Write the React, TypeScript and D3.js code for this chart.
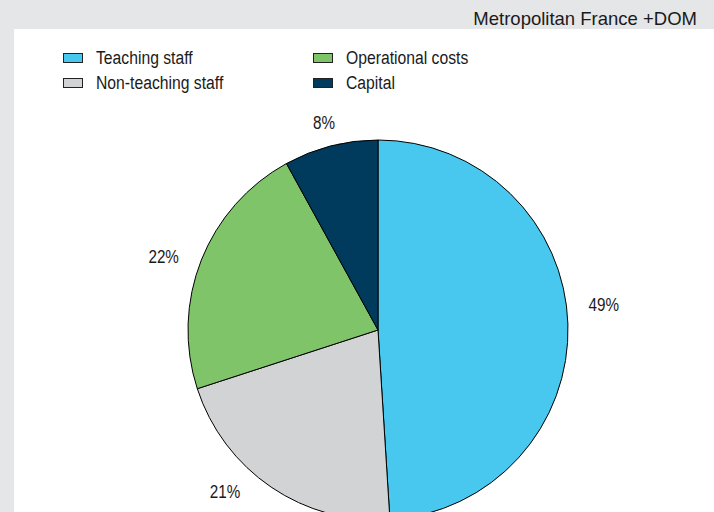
import React from 'react';
import * as d3 from 'd3';

const categories = ['Teaching staff', 'Non-teaching staff', 'Operational costs', 'Capital'];
const values = [49, 21, 22, 8];
const colors = ['#48c8ee', '#d2d3d5', '#80c469', '#003a5c'];
const legendOrder = [0, 1, 2, 3];
const labelAngleNudge = [-4.5, 9.3, -2.7, -0.2];
const title = 'Metropolitan France +DOM';

const W = 714;
const H = 512;
const cx = 378;
const cy = 330;
const R = 190;
const font = "'Liberation Sans', Arial, sans-serif";

export default function App() {
  const arcs = d3.pie<number>().sort(null).value((d) => d)(values);
  const arcGen = d3.arc<d3.PieArcDatum<number>>().innerRadius(0).outerRadius(R);

  const labelPos = (a: d3.PieArcDatum<number>, i: number) => {
    const mid = (a.startAngle + a.endAngle) / 2 + (labelAngleNudge[i] * Math.PI) / 180;
    const s = Math.sin(mid);
    const c = Math.cos(mid);
    const dist = R + 17 + Math.abs(s) * 20 + Math.abs(c) * 2;
    return [s * dist, -c * dist];
  };

  return (
    <svg width={W} height={H} style={{ position: 'absolute', left: 0, top: 0 }}>
      <rect x={0} y={0} width={W} height={H} fill="#e5e6e8" />
      <rect x={14} y={29} width={W - 14} height={H - 29} fill="#ffffff" />
      <text x={697} y={25} textAnchor="end" fontFamily={font} fontSize={18.5} fill="#1a1a1a">
        {title}
      </text>
      <g>
        {legendOrder.map((ci, k) => {
          const col = Math.floor(k / 2);
          const row = k % 2;
          const x = col === 0 ? 63 : 313;
          const y = 53 + row * 25;
          return (
            <g key={ci}>
              <rect x={x + 0.5} y={y + 0.5} width={19} height={9} fill={colors[ci]} stroke="#222" strokeWidth={1} />
              <text transform={`translate(${x + 33},${y + 11}) scale(0.85,1)`} fontFamily={font} fontSize={18.5} fill="#1a1a1a">
                {categories[ci]}
              </text>
            </g>
          );
        })}
      </g>
      <g transform={`translate(${cx},${cy})`}>
        {arcs.map((a, i) => (
          <path key={i} d={arcGen(a) || ''} fill={colors[i]} stroke="#000" strokeWidth={1} strokeLinejoin="round" />
        ))}
        {arcs.map((a, i) => {
          const [x, y] = labelPos(a, i);
          return (
            <text key={'l' + i} transform={`translate(${x},${y}) scale(0.87,1)`} textAnchor="middle" dominantBaseline="central" fontFamily={font} fontSize={17.5} fill="#1a1a1a">
              {values[i]}%
            </text>
          );
        })}
      </g>
    </svg>
  );
}
